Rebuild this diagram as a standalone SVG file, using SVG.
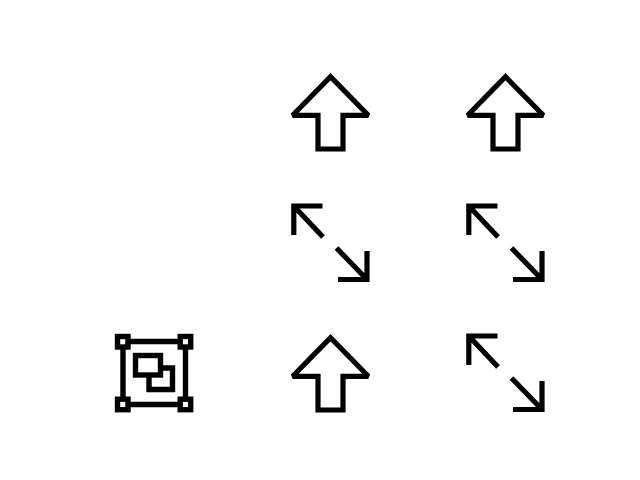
<svg xmlns="http://www.w3.org/2000/svg" width="640" height="480" viewBox="0 0 640 480">
<style>
.i{fill:none;stroke:#000;stroke-width:5.200;stroke-miterlimit:10}
.u{stroke-miterlimit:2}
.g{stroke-width:5.400}
</style>
<defs>
<path id="up" d="M292.700 115.300L330.500 76.800L368.300 115.300H343V149H318V115.300Z"/>
<path id="resize" d="M293.800 235V206H322.500M293.800 206L323 237M336.500 248L367 279.500M367 251V279.500H338"/>
</defs>
<rect width="640" height="480" fill="#fff"/>
<g id="connectors"></g>
<g id="node-up-1" class="i u"><use href="#up"/></g>
<g id="node-up-2" class="i u"><use href="#up" x="175"/></g>
<g id="node-up-3" class="i u"><use href="#up" y="261"/></g>
<g id="node-resize-1" class="i"><use href="#resize"/></g>
<g id="node-resize-2" class="i"><use href="#resize" x="175"/></g>
<g id="node-resize-3" class="i"><use href="#resize" x="175" y="130"/></g>
<g id="node-group" class="i g">
<rect x="117.500" y="336.500" width="10.500" height="10.500"/>
<rect x="180.200" y="336.500" width="10.500" height="10.500"/>
<rect x="117.500" y="399.200" width="10.500" height="10.500"/>
<rect x="180.200" y="399.200" width="10.500" height="10.500"/>
<path d="M128 341.500H180M128 404.500H180M123 347V399M185.500 347V399"/>
<rect x="135.500" y="355.500" width="25" height="19.500"/>
<path d="M160.500 368H172.500V389.500H149V375"/>
</g>
</svg>
